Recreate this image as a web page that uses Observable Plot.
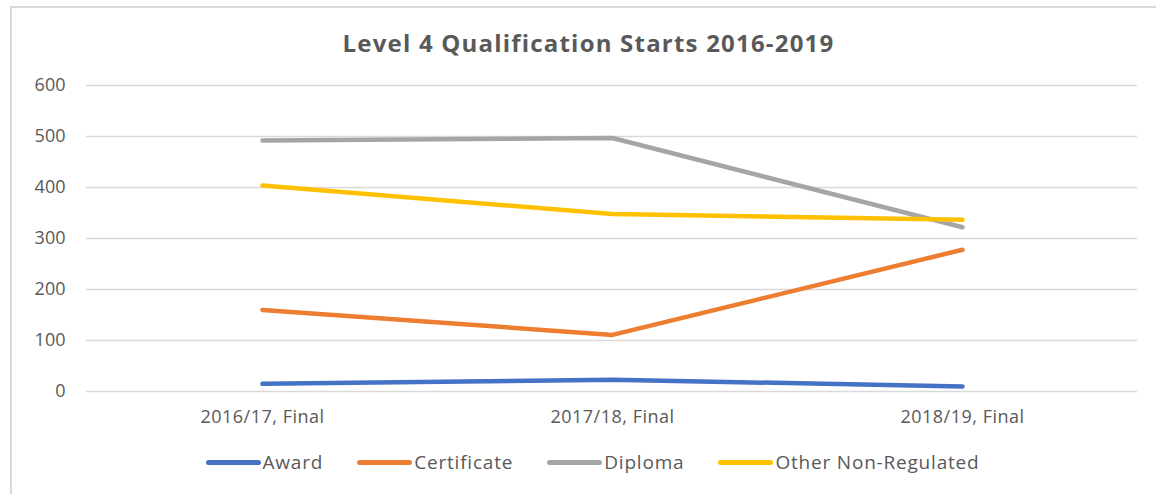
<!DOCTYPE html>
<html>
<head>
<meta charset="utf-8">
<script src="https://cdn.jsdelivr.net/npm/d3@7"></script>
<script src="https://cdn.jsdelivr.net/npm/@observablehq/plot@0.6"></script>
<style>
  html, body { margin: 0; padding: 0; background: #fff; }
  body { width: 1156px; height: 494px; position: relative; overflow: hidden; font-family: "Open Sans", sans-serif; }
  #frame { position: absolute; left: 10px; top: 6px; width: 1300px; height: 700px; border-left: 2px solid #d9d9d9; border-top: 2px solid #d9d9d9; }
  #title { position: absolute; left: 0; width: 1177px; top: 28px; text-align: center; font-size: 24px; line-height: 30px; letter-spacing: 1.2px; font-weight: bold; color: #595959; }
  #chart { position: absolute; left: 0; top: 70px; }
  #legend { position: absolute; left: 0; width: 1185px; top: 449px; display: flex; justify-content: center; gap: 34px; color: #595959; font-size: 19px; line-height: 26px; letter-spacing: 0.8px; }
  .item { display: flex; align-items: center; }
  .sw { width: 55px; height: 5px; border-radius: 3px; margin-right: 2px; }
  #chart svg g[aria-label="x-axis tick label"] text { letter-spacing: 0.5px; }
</style>
</head>
<body>
<div id="frame"></div>
<div id="title">Level 4 Qualification Starts 2016-2019</div>
<div id="chart"></div>
<div id="legend"></div>
<script>
const categories = ["2016/17, Final", "2017/18, Final", "2018/19, Final"];
const seriesNames = ["Award", "Certificate", "Diploma", "Other Non-Regulated"];
const seriesColors = ["#4472C4", "#ED7D31", "#A5A5A5", "#FFC000"];
const award = [15, 23, 10];
const certificate = [160, 111, 278];
const diploma = [492, 497, 322];
const otherNonRegulated = [404, 348, 337];
const yTicks = [0, 100, 200, 300, 400, 500, 600];

const seriesValues = [award, certificate, diploma, otherNonRegulated];
const rows = seriesNames.flatMap((name, s) =>
  categories.map((cat, i) => ({cat, series: name, value: seriesValues[s][i]}))
);

const chart = Plot.plot({
  width: 1156,
  height: 365,
  marginTop: 15,
  marginBottom: 44,
  marginLeft: 86,
  marginRight: 19,
  style: {fontFamily: "'Open Sans', sans-serif", fontSize: "18px", color: "#595959", background: "transparent"},
  x: {type: "point", domain: categories, padding: 0.5, label: null},
  y: {domain: [0, 600], ticks: yTicks, label: null},
  color: {domain: seriesNames, range: seriesColors},
  marks: [
    Plot.gridY(yTicks, {stroke: "#d9d9d9", strokeOpacity: 1, strokeWidth: 1.5}),
    Plot.axisY(yTicks, {tickSize: 0, tickPadding: 21, label: null}),
    Plot.axisX({tickSize: 0, tickPadding: 19, label: null}),
    Plot.lineY(rows, {x: "cat", y: "value", z: "series", stroke: "series", strokeWidth: 4.5, strokeLinecap: "round", strokeLinejoin: "round"})
  ]
});
document.getElementById("chart").appendChild(chart);

const legend = document.getElementById("legend");
seriesNames.forEach((name, i) => {
  const item = document.createElement("div");
  item.className = "item";
  const sw = document.createElement("span");
  sw.className = "sw";
  sw.style.background = seriesColors[i];
  const label = document.createElement("span");
  label.textContent = name;
  item.appendChild(sw);
  item.appendChild(label);
  legend.appendChild(item);
});
</script>
</body>
</html>
